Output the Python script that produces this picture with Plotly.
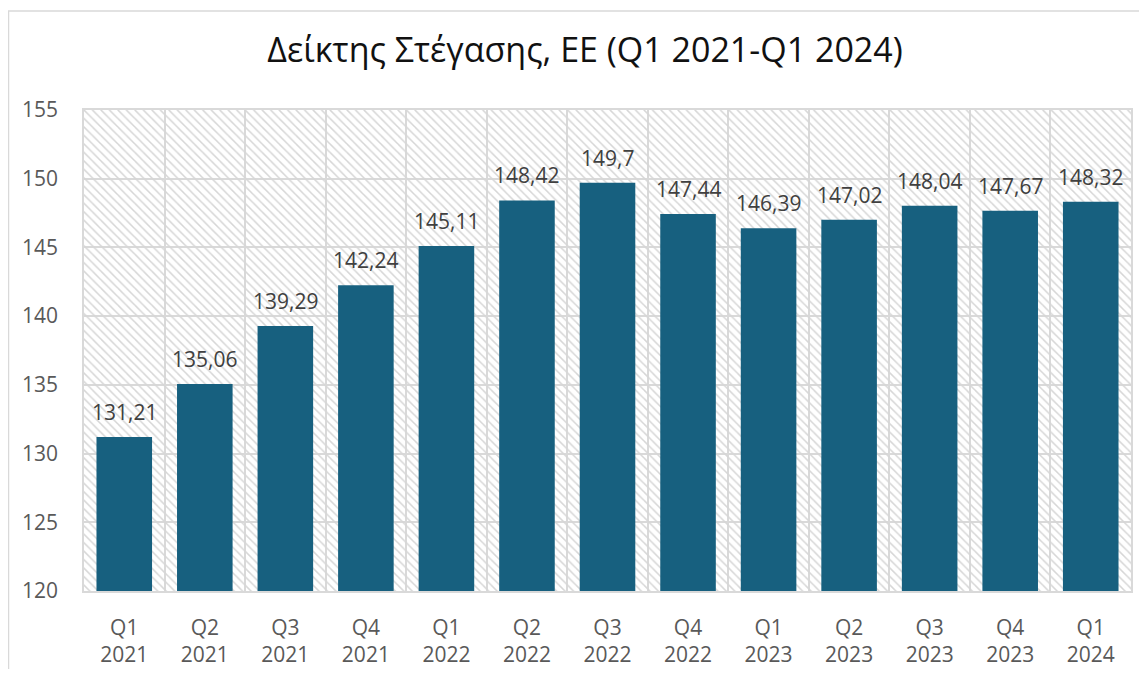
import plotly.graph_objects as go

quarters = ["Q1", "Q2", "Q3", "Q4", "Q1", "Q2", "Q3", "Q4", "Q1", "Q2", "Q3", "Q4", "Q1"]
years = ["2021", "2021", "2021", "2021", "2022", "2022", "2022", "2022", "2023", "2023", "2023", "2023", "2024"]
values = [131.21, 135.06, 139.29, 142.24, 145.11, 148.42, 149.7, 147.44, 146.39, 147.02, 148.04, 147.67, 148.32]
y_min, y_max, y_step = 120, 155, 5

categories = [f"{q}<br>{y}" for q, y in zip(quarters, years)]
labels = [f"{v:g}".replace(".", ",") for v in values]

# page body has an 8px margin, so the figure is 16px smaller than the window
W, H = 1131, 661
ml, mr, mt, mb = 76, 8, 102, 78

fig = go.Figure()

# hatched plot-area background
fig.add_trace(go.Bar(
    x=categories, y=[y_max - y_min] * len(categories), base=y_min, width=1,
    marker=dict(color="rgba(0,0,0,0)", line=dict(width=0),
                pattern=dict(shape="\\", fgcolor="#D6D6D6", bgcolor="rgba(255,255,255,0)",
                             size=6, solidity=0.25, fillmode="replace")),
    hoverinfo="skip", showlegend=False,
))

fig.add_trace(go.Bar(
    x=categories, y=[v - y_min for v in values], base=y_min, width=0.69,
    marker=dict(color="#17607F", line=dict(width=0)),
    hoverinfo="skip", showlegend=False,
))

for c, v, t in zip(categories, values, labels):
    fig.add_annotation(x=c, y=v, text=t, showarrow=False, yanchor="bottom", yshift=9,
                       font=dict(family="Open Sans", size=21, color="#404040"))

pw = W - ml - mr
ph = H - mt - mb
fig.add_shape(type="rect", xref="paper", yref="paper",
              x0=(0.5 - ml) / pw, x1=(W + 20 - ml) / pw,
              y0=-(mb + 20) / ph, y1=(H - 3 - mb) / ph,
              line=dict(color="#D9D9D9", width=1.5), layer="below")

fig.update_layout(
    width=W, height=H,
    margin=dict(l=ml, r=mr, t=mt, b=mb),
    paper_bgcolor="white", plot_bgcolor="white",
    barmode="overlay",
    title=dict(text="Δείκτης Στέγασης, ΕΕ (Q1 2021-Q1 2024)", x=577 / W, xanchor="center",
               y=1 - 42 / H, yanchor="middle",
               font=dict(family="Open Sans", size=34, color="#111111")),
    font=dict(family="Open Sans"),
    xaxis=dict(type="category", tickson="boundaries", showgrid=True, gridcolor="#D9D9D9", gridwidth=1.5,
               showline=True, linecolor="#D9D9D9", linewidth=1.5, mirror=True, automargin=False,
               ticks="", tickfont=dict(size=21, color="#595959"), ticklabelstandoff=17),
    yaxis=dict(range=[y_min, y_max], dtick=y_step, showgrid=True, gridcolor="#D9D9D9", gridwidth=1.5,
               showline=True, linecolor="#D9D9D9", linewidth=1.5, mirror=True, zeroline=False,
               automargin=False,
               ticks="", tickfont=dict(size=21, color="#595959"), ticklabelstandoff=20),
)

fig.write_html("out.html")
